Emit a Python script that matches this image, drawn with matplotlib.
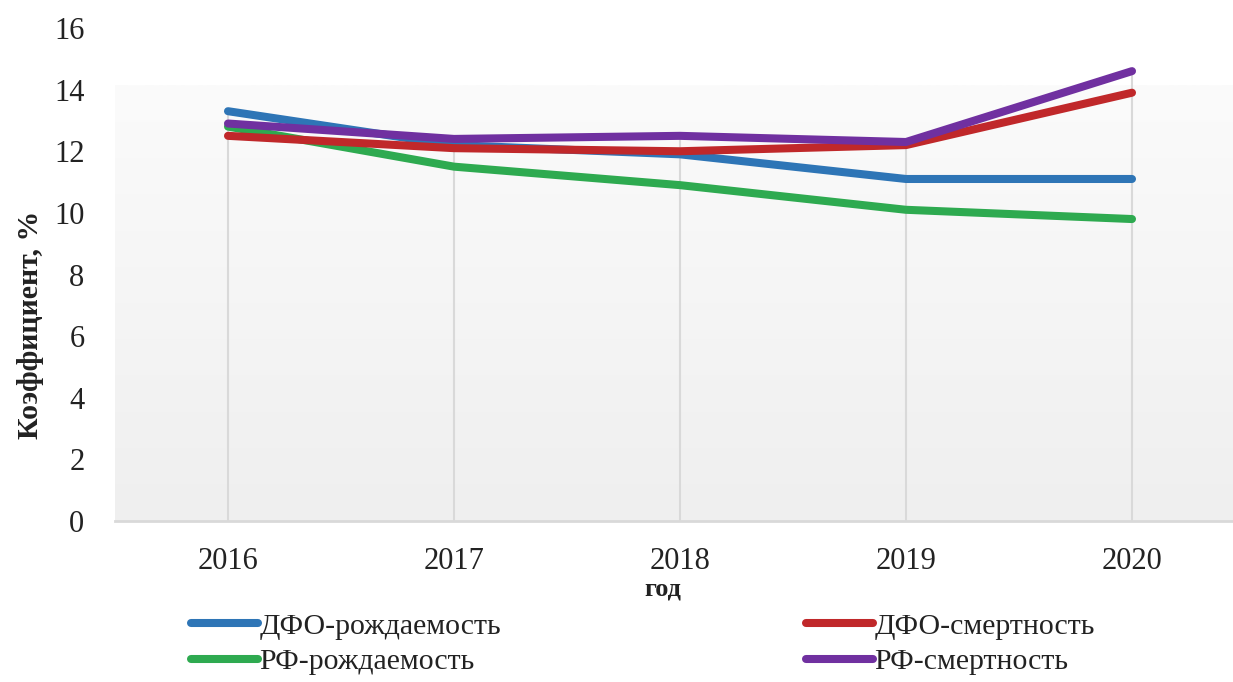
import numpy as np
import matplotlib.pyplot as plt
from matplotlib.lines import Line2D

# данные
years = ['2016', '2017', '2018', '2019', '2020']
dfo_birth = [13.3, 12.2, 11.9, 11.1, 11.1]
dfo_death = [12.5, 12.1, 12.0, 12.2, 13.9]
rf_birth = [12.8, 11.5, 10.9, 10.1, 9.8]
rf_death = [12.9, 12.4, 12.5, 12.3, 14.6]
y_ticks = [0, 2, 4, 6, 8, 10, 12, 14, 16]

series = [
    ('ДФО-рождаемость', dfo_birth, '#2e75b6'),
    ('ДФО-смертность', dfo_death, '#c0282a'),
    ('РФ-рождаемость', rf_birth, '#2eaa50'),
    ('РФ-смертность', rf_death, '#7030a0'),
]

plt.rcParams['font.family'] = ['Liberation Serif', 'DejaVu Serif']

W, H = 1233, 682
fig = plt.figure(figsize=(W / 100, H / 100), dpi=100)
# область построения: x 115..1245, y 28..521 (пиксели)
ax = fig.add_axes([115 / W, 1 - 521 / H, 1130 / W, 493 / H])

x = np.arange(len(years))
ax.set_xlim(-0.5, len(years) - 0.5)
ax.set_ylim(0, 16)

# градиентный фон
grad = np.linspace(0, 1, 256).reshape(-1, 1)
ax.imshow(grad, extent=(-0.5, len(years) - 0.5, 0, 14.15), aspect='auto',
          cmap=plt.matplotlib.colors.LinearSegmentedColormap.from_list(
              'g', ['#efefef', '#fbfbfb']),
          origin='lower', zorder=0)

# линии проекции (от максимума до оси)
tops = np.max([dfo_birth, dfo_death, rf_birth, rf_death], axis=0)
ax.vlines(x, 0, tops, color='#d9d9d9', lw=1.5, zorder=1)

for i in [2, 0, 1, 3]:
    name, vals, col = series[i]
    ax.plot(x, vals, color=col, lw=5.8, solid_capstyle='round',
            solid_joinstyle='round', zorder=3)

for s in ['top', 'right', 'left']:
    ax.spines[s].set_visible(False)
ax.spines['bottom'].set_color('#d9d9d9')
ax.spines['bottom'].set_linewidth(2)

ax.set_xticks(x)
ax.set_xticklabels(years)
ax.set_yticks(y_ticks)
ax.tick_params(axis='both', length=0, labelsize=22, colors='#222222')
ax.tick_params(axis='y', pad=22)
ax.tick_params(axis='x', pad=19)

fig.text(30 / W, 1 - 325 / H, 'Коэффициент, %', rotation=90, ha='center',
         va='center', fontsize=21.5, fontweight='bold', color='#222222')
fig.text(663 / W, 1 - 589 / H, 'год', ha='center', va='center',
         fontsize=19, fontweight='bold', color='#222222')

handles = [Line2D([], [], color=c, lw=5.8, solid_capstyle='round')
           for _, _, c in [series[0], series[2], series[1], series[3]]]
labels = [n for n, _, _ in [series[0], series[2], series[1], series[3]]]
fig.legend(handles, labels, ncol=2, loc='upper left',
           bbox_to_anchor=(176 / W, 1 - 598 / H), frameon=False,
           fontsize=21.5, handlelength=2.25, handletextpad=0.05,
           columnspacing=10.2, labelspacing=0.28, borderpad=0,
           labelcolor='#222222')

fig.savefig('out.png', dpi=100)
